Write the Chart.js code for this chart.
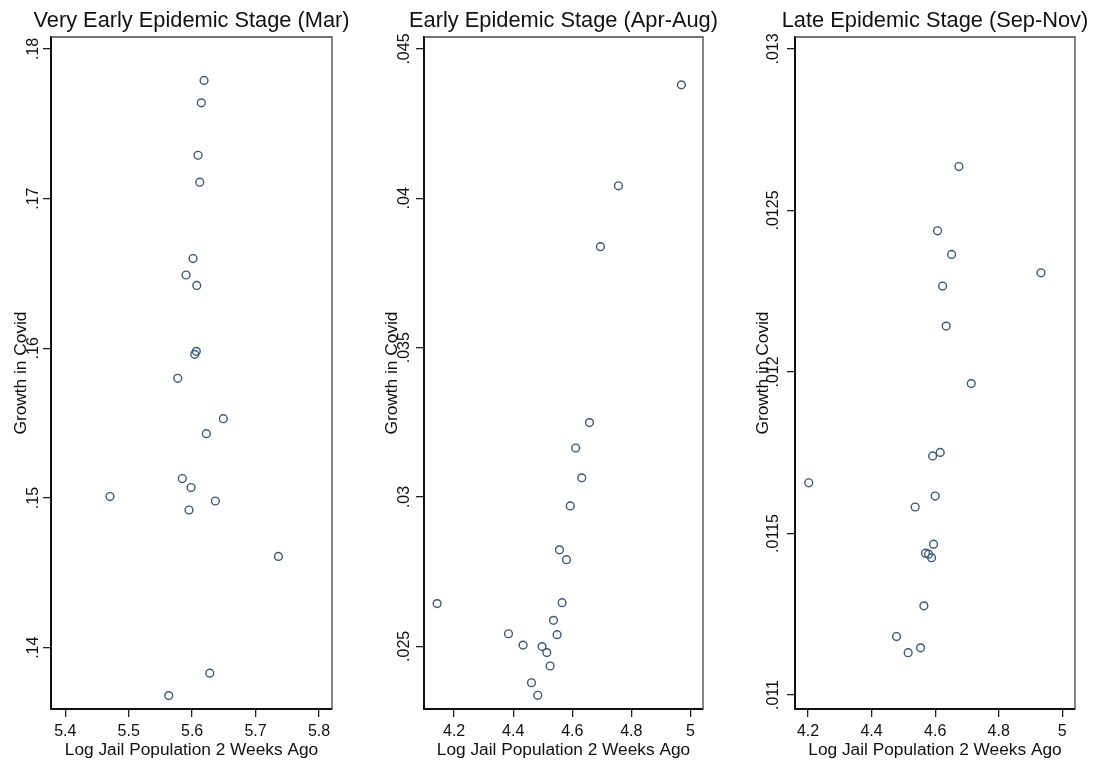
<!DOCTYPE html>
<html>
<head>
<meta charset="utf-8">
<script src="https://cdn.jsdelivr.net/npm/chart.js@4.4.0/dist/chart.umd.min.js"></script>
<style>
  html, body { margin: 0; padding: 0; background: #fff; }
  canvas { position: absolute; top: 0; }
</style>
</head>
<body>
<canvas id="panelMar" width="365" height="765" style="left:0px"></canvas>
<canvas id="panelEarly" width="365" height="765" style="left:365px"></canvas>
<canvas id="panelLate" width="364" height="765" style="left:730px"></canvas>
<script>
// Very early stage (Mar)
const marJail = [5.6188, 5.6145, 5.6093, 5.6120, 5.6014, 5.5904, 5.6073, 5.6066, 5.6041, 5.5773,
                 5.6492, 5.6224, 5.5845, 5.5983, 5.4705, 5.6366, 5.5951, 5.7360, 5.6278, 5.5631];
const marGrowth = [0.1779, 0.1764, 0.1729, 0.1711, 0.1660, 0.1649, 0.1642, 0.1598, 0.1596, 0.1580,
                   0.1553, 0.1543, 0.1513, 0.1507, 0.1501, 0.1498, 0.1492, 0.1461, 0.1383, 0.1368];
const marXTicks = [5.4, 5.5, 5.6, 5.7, 5.8];
const marXLabels = ['5.4', '5.5', '5.6', '5.7', '5.8'];
const marYTicks = [0.14, 0.15, 0.16, 0.17, 0.18];
const marYLabels = ['.14', '.15', '.16', '.17', '.18'];

// Early stage (Apr-Aug)
const earlyJail = [4.9695, 4.7563, 4.6954, 4.6582, 4.6118, 4.6321, 4.5932, 4.5567, 4.5804, 4.1425,
                   4.5655, 4.5364, 4.3841, 4.5486, 4.4335, 4.4978, 4.5137, 4.5249, 4.4619, 4.4832];
const earlyGrowth = [0.04380, 0.04042, 0.03838, 0.03249, 0.03164, 0.03064, 0.02970, 0.02823, 0.02790, 0.02643,
                     0.02646, 0.02587, 0.02542, 0.02539, 0.02504, 0.02499, 0.02479, 0.02434, 0.02378, 0.02336];
const earlyXTicks = [4.2, 4.4, 4.6, 4.8, 5];
const earlyXLabels = ['4.2', '4.4', '4.6', '4.8', '5'];
const earlyYTicks = [0.025, 0.03, 0.035, 0.04, 0.045];
const earlyYLabels = ['.025', '.03', '.035', '.04', '.045'];

// Late stage (Sep-Nov)
const lateJail = [4.6747, 4.6076, 4.6517, 4.9330, 4.6234, 4.6347, 4.7135, 4.6158, 4.5919, 4.2022,
                  4.6000, 4.5370, 4.5950, 4.5698, 4.5793, 4.5887, 4.5645, 4.4785, 4.5541, 4.5150];
const lateGrowth = [0.012636, 0.012437, 0.012364, 0.012307, 0.012266, 0.012142, 0.011964, 0.011751, 0.011740, 0.011657,
                    0.011616, 0.011582, 0.011467, 0.011439, 0.011436, 0.011425, 0.011276, 0.011181, 0.011146, 0.011131];
const lateXTicks = [4.2, 4.4, 4.6, 4.8, 5];
const lateXLabels = ['4.2', '4.4', '4.6', '4.8', '5'];
const lateYTicks = [0.011, 0.0115, 0.012, 0.0125, 0.013];
const lateYLabels = ['.011', '.0115', '.012', '.0125', '.013'];

const FONT = '"Liberation Sans", Arial, sans-serif';
Chart.defaults.font.family = FONT;
Chart.defaults.color = '#111';

// stata-ish frame, panel title and rotated y labels
const stataFrame = {
  id: 'stataFrame',
  afterDraw(chart, args, opts) {
    const { ctx, chartArea: a } = chart;
    const y = chart.scales.y;
    ctx.save();
    ctx.strokeStyle = '#444';
    ctx.lineWidth = 1.3;
    ctx.beginPath();
    ctx.moveTo(a.left, a.top);
    ctx.lineTo(a.right, a.top);
    ctx.lineTo(a.right, a.bottom);
    ctx.stroke();

    ctx.fillStyle = '#111';
    ctx.textAlign = 'center';
    // title centred over the plot region (not squeezed)
    ctx.textBaseline = 'middle';
    ctx.font = '21.8px ' + FONT;
    ctx.fillText(opts.title, (a.left + a.right) / 2, 21);

    ctx.textBaseline = 'alphabetic';
    ctx.font = '16px ' + FONT;
    opts.ticks.forEach((v, i) => {
      ctx.save();
      ctx.translate(a.left - opts.tickGap, y.getPixelForValue(v));
      ctx.rotate(-Math.PI / 2);
      ctx.fillText(opts.labels[i], 0, 0);
      ctx.restore();
    });
    ctx.font = '17.3px ' + FONT;
    ctx.translate(a.left - opts.titleGap, (a.top + a.bottom) / 2);
    ctx.rotate(-Math.PI / 2);
    ctx.fillText('Growth in Covid', 0, 0);
    ctx.restore();
  }
};

function makePanel(id, title, xs, ys, xRange, yRange, xTicks, xLabels, yTicks, yLabels, yWidth, padRight, tickGap, titleGap) {
  const points = xs.map((x, i) => ({ x: x, y: ys[i] }));
  new Chart(document.getElementById(id), {
    type: 'scatter',
    data: {
      datasets: [{
        data: points,
        pointStyle: 'circle',
        pointRadius: 3.9,
        pointHoverRadius: 3.9,
        pointBorderWidth: 1.4,
        pointBorderColor: '#36597d',
        pointBackgroundColor: 'rgba(0,0,0,0)'
      }]
    },
    options: {
      responsive: false,
      animation: false,
      layout: { padding: { left: 0, right: padRight, top: 37, bottom: 0 } },
      plugins: {
        legend: { display: false },
        tooltip: { enabled: false },
        title: { display: false },
        stataFrame: { title: title, ticks: yTicks, labels: yLabels, tickGap: tickGap, titleGap: titleGap }
      },
      scales: {
        x: {
          type: 'linear',
          min: xRange[0],
          max: xRange[1],
          afterBuildTicks: s => { s.ticks = xTicks.map(v => ({ value: v })); },
          afterFit: s => { s.height = 56; },
          ticks: {
            callback: (v, i) => xLabels[i],
            font: { size: 16 },
            color: '#111',
            padding: 5,
            maxRotation: 0
          },
          grid: { display: true, drawOnChartArea: false, drawTicks: true, tickLength: 8, color: '#222', lineWidth: 1.3 },
          border: { display: true, color: '#111', width: 2 },
          title: {
            display: true,
            text: 'Log Jail Population 2 Weeks Ago',
            color: '#111',
            font: { size: 17.3 },
            padding: { top: 0, bottom: 4 }
          }
        },
        y: {
          type: 'linear',
          min: yRange[0],
          max: yRange[1],
          afterBuildTicks: s => { s.ticks = yTicks.map(v => ({ value: v })); },
          afterFit: s => { s.width = yWidth; },
          ticks: { display: false },
          grid: { display: true, drawOnChartArea: false, drawTicks: true, tickLength: 8, color: '#222', lineWidth: 1.3 },
          border: { display: true, color: '#111', width: 2 }
        }
      }
    },
    plugins: [stataFrame]
  });
}

makePanel('panelMar', 'Very Early Epidemic Stage (Mar)', marJail, marGrowth,
  [5.3775, 5.8205], [0.135905, 0.18080], marXTicks, marXLabels, marYTicks, marYLabels, 51, 33, 13, 25);
makePanel('panelEarly', 'Early Epidemic Stage (Apr-Aug)', earlyJail, earlyGrowth,
  [4.098, 5.0426], [0.022901, 0.045402], earlyXTicks, earlyXLabels, earlyYTicks, earlyYLabels, 59, 27, 15, 27.5);
makePanel('panelLate', 'Late Epidemic Stage (Sep-Nov)', lateJail, lateGrowth,
  [4.159, 5.040], [0.0109567, 0.013037], lateXTicks, lateXLabels, lateYTicks, lateYLabels, 65, 19, 17, 27);
</script>
</body>
</html>
